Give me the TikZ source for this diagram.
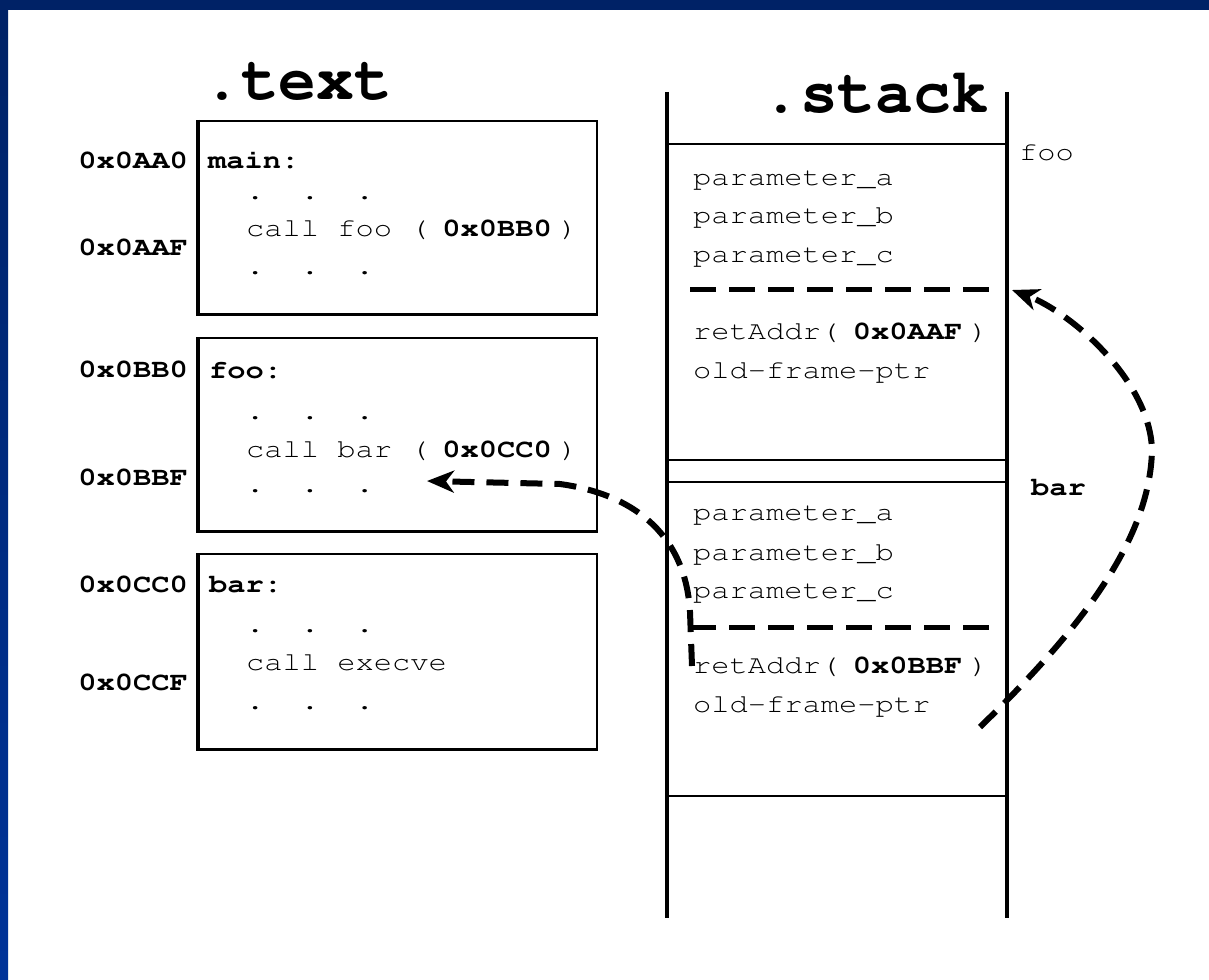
\documentclass[tikz,border=0pt]{standalone}
\usepackage[T1]{fontenc}
\renewcommand{\ttdefault}{pcr}
\usepackage{graphicx}
\usetikzlibrary{arrows.meta}
\definecolor{navy}{HTML}{002266}
\definecolor{royal}{HTML}{003399}
\newcommand{\cx}[1]{\scalebox{1.17}[1]{#1}}
\newcommand{\dotsline}{.\hspace{1.2em}.\hspace{1.2em}.}
\begin{document}
\begin{tikzpicture}[x=1pt,y=-1pt,
  codetxt/.style={font=\fontsize{26}{30}\selectfont\ttfamily, inner sep=0pt, anchor=base west},
  addrtxt/.style={font=\fontsize{26}{30}\selectfont\ttfamily\bfseries, inner sep=0pt, anchor=base east},
  ttl/.style={font=\fontsize{63}{70}\selectfont\ttfamily\bfseries, inner sep=0pt, anchor=base west},
  tbox/.style={draw, line width=1.6pt, minimum width=398pt, anchor=north west, inner sep=0pt},
  stkframe/.style={draw, line width=1.8pt, minimum width=340pt, anchor=north west, inner sep=0pt},
  sepline/.style={line width=5pt, dash pattern=on 26pt off 13pt},
  flowarrow/.style={line width=6pt, dash pattern=on 22pt off 12pt, -{Stealth[length=27pt,width=22pt,inset=8pt]}},
]
\useasboundingbox (0,0) rectangle (1209,979);
% background
\fill[white] (0,0) rectangle (1209,979);
\fill[navy] (0,0) rectangle (1209,10);
\shade[top color=navy, bottom color=royal] (0,10) rectangle (8,979);

% titles
\node[ttl] (ttext) at (203,100) {.text};
\node[ttl] (tstack) at (762,113) {.stack};

% text section boxes
\node[tbox, minimum height=193pt] (mainbox) at (198,120) {};
\node[tbox, minimum height=193pt] (foobox) at (198,337) {};
\node[tbox, minimum height=195pt] (barbox) at (198,553) {};
\foreach \b in {mainbox,foobox,barbox}{
  \draw[line width=3.2pt] (\b.north west) -- (\b.south west) -- (\b.south east);
}

% main box contents
\node[addrtxt] (a1) at (188,168) {\cx{0x0AA0}};
\node[addrtxt] (a2) at (188,255) {\cx{0x0AAF}};
\node[codetxt] (m1) at (208,168) {\cx{\bfseries main:}};
\node[codetxt] (m2) at (246,199) {\cx{\dotsline}};
\node[codetxt] (m3) at (246,236) {\cx{call foo (\kern0.45em\textbf{0x0BB0}\kern0.25em)}};
\node[codetxt] (m4) at (246,274) {\cx{\dotsline}};

% foo box contents
\node[addrtxt] (a3) at (188,377) {\cx{0x0BB0}};
\node[addrtxt] (a4) at (188,485) {\cx{0x0BBF}};
\node[codetxt] (f1) at (209,378) {\cx{\bfseries foo:}};
\node[codetxt] (f2) at (246,419) {\cx{\dotsline}};
\node[codetxt] (f3) at (246,457) {\cx{call bar (\kern0.45em\textbf{0x0CC0}\kern0.25em)}};
\node[codetxt] (f4) at (246,492) {\cx{\dotsline}};

% bar box contents
\node[addrtxt] (a5) at (188,592) {\cx{0x0CC0}};
\node[addrtxt] (a6) at (188,690) {\cx{0x0CCF}};
\node[codetxt] (b1) at (209,592) {\cx{\bfseries bar:}};
\node[codetxt] (b2) at (246,632) {\cx{\dotsline}};
\node[codetxt] (b3) at (246,670) {\cx{call execve}};
\node[codetxt] (b4) at (246,709) {\cx{\dotsline}};

% stack
\node[stkframe, minimum height=316pt] (fooframe) at (667,143) {};
\node[stkframe, minimum height=22pt] (gapframe) at (667,459) {};
\node[stkframe, minimum height=314pt] (barframe) at (667,481) {};
\coordinate (sl1) at (667,92);
\coordinate (sl2) at (667,918);
\coordinate (sr1) at (1007,92);
\coordinate (sr2) at (1007,918);
\draw[line width=3.2pt] (sl1) -- (sl2);
\draw[line width=3.2pt] (sr1) -- (sr2);

\node[codetxt] (lfoo) at (1019,160) {\cx{foo}};
\node[codetxt] (lbar) at (1031,495) {\cx{\bfseries bar}};

% foo frame contents
\node[codetxt] (p1) at (693,185) {\cx{parameter\_a}};
\node[codetxt] (p2) at (693,223) {\cx{parameter\_b}};
\node[codetxt] (p3) at (693,262) {\cx{parameter\_c}};
\coordinate (s1a) at (690,289);
\coordinate (s1b) at (989,289);
\draw[sepline] (s1a) -- (s1b);
\node[codetxt] (r1) at (693,339) {\cx{retAddr(\kern0.45em\textbf{0x0AAF}\kern0.25em)}};
\node[codetxt] (o1) at (693,378) {\cx{old-frame-ptr}};

% bar frame contents
\node[codetxt] (q1) at (693,520) {\cx{parameter\_a}};
\node[codetxt] (q2) at (693,560) {\cx{parameter\_b}};
\node[codetxt] (q3) at (693,598) {\cx{parameter\_c}};
\coordinate (s2a) at (690,627);
\coordinate (s2b) at (989,627);
\draw[sepline] (s2a) -- (s2b);
\node[codetxt] (r2) at (693,673) {\cx{retAddr(\kern0.45em\textbf{0x0BBF}\kern0.25em)}};
\node[codetxt] (o2) at (693,712) {\cx{old-frame-ptr}};

% return arrows
\coordinate (r1s) at (980,727);
\coordinate (r1e) at (1012,290);
\draw[flowarrow] (r1s) .. controls (1080,630) and (1150,540) .. (1152,450)
  .. controls (1150,380) and (1070,312) .. (r1e);
\coordinate (r2s) at (692,666);
\coordinate (r2e) at (427,481);
\draw[flowarrow] (r2s) -- (690,612) .. controls (686,540) and (640,495) .. (560,484) -- (r2e);
\end{tikzpicture}
\end{document}
